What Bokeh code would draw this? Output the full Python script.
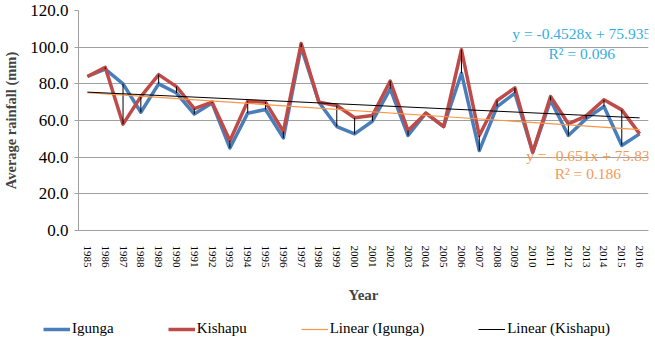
from bokeh.plotting import figure
from bokeh.models import (ColumnDataSource, FixedTicker, PrintfTickFormatter,
                          Legend, LegendItem, Label, Range1d)
from bokeh.embed import file_html
from bokeh.resources import INLINE

# Annual average rainfall (mm), 1985-2016
years = list(range(1985, 2017))
igunga = [84.0, 88.0, 80.0, 64.5, 80.0, 75.0, 63.5, 69.5, 45.0, 64.0, 66.0, 50.5,
          100.0, 70.0, 56.7, 52.7, 59.6, 77.3, 51.8, 64.0, 56.7, 85.8, 43.6, 67.6,
          74.9, 42.7, 71.0, 51.8, 61.0, 67.6, 46.4, 52.7]
kishapu = [84.0, 89.0, 58.0, 73.0, 85.0, 78.5, 66.5, 70.0, 49.0, 70.5, 70.0, 54.0,
           102.0, 70.0, 68.2, 61.5, 62.7, 81.5, 54.5, 64.0, 56.7, 98.6, 51.8, 70.9,
           77.8, 42.7, 73.1, 58.2, 62.5, 71.3, 65.8, 52.7]

# Fitted linear trends (x = 1 for 1985 ... 32 for 2016)
igunga_slope, igunga_intercept, igunga_r2 = -0.651, 75.83, 0.186
kishapu_slope, kishapu_intercept, kishapu_r2 = -0.4528, 75.935, 0.096

y_ticks = [0, 20, 40, 60, 80, 100, 120]

idx = list(range(1, len(years) + 1))
src = ColumnDataSource(dict(x=idx, igunga=igunga, kishapu=kishapu))

SERIF = "Liberation Serif"
GRID = "#a0a0a0"
BLUE, RED, ORANGE = "#4A7EBB", "#BE4B48", "#F79646"

p = figure(width=655, height=310, output_backend="svg", toolbar_location=None,
           x_range=Range1d(0.5, len(years) + 0.5), y_range=Range1d(0, 120),
           min_border_left=74, min_border_right=7, min_border_top=10,
           min_border_bottom=80)
p.outline_line_color = None
p.background_fill_color = "white"
p.border_fill_color = "white"

# series
p.line("x", "igunga", source=src, line_color=BLUE, line_width=3.5,
       line_join="round")
p.line("x", "kishapu", source=src, line_color=RED, line_width=3.5,
       line_join="round")

# high-low connectors between the two stations
p.segment(x0="x", y0="igunga", x1="x", y1="kishapu", source=src,
          line_color="black", line_width=1)

# trend lines from the fitted equations
tx = [1, len(years)]
p.line(tx, [igunga_intercept + igunga_slope * v for v in tx],
       line_color=ORANGE, line_width=1.2)
p.line(tx, [kishapu_intercept + kishapu_slope * v for v in tx],
       line_color="black", line_width=1)

# axes
p.xaxis.ticker = FixedTicker(ticks=idx)
p.xaxis.major_label_overrides = {i: str(y) for i, y in zip(idx, years)}
p.xaxis.major_label_orientation = "vertical"
p.xaxis.major_tick_line_color = None
p.xaxis.major_tick_in = 0
p.xaxis.major_tick_out = 0
p.xaxis.minor_tick_line_color = None
p.xaxis.axis_line_color = GRID
p.xaxis.major_label_standoff = 15
p.xaxis.major_label_text_font = SERIF
p.xaxis.major_label_text_font_size = "11px"
p.xaxis.major_label_text_color = "black"
p.xaxis.axis_label = "Year"
p.xaxis.axis_label_text_font = SERIF
p.xaxis.axis_label_text_font_style = "bold"
p.xaxis.axis_label_text_font_size = "15px"
p.xaxis.axis_label_standoff = 16

p.yaxis.ticker = FixedTicker(ticks=y_ticks)
p.yaxis.formatter = PrintfTickFormatter(format="%.1f")
p.yaxis.major_tick_line_color = GRID
p.yaxis.major_tick_in = 0
p.yaxis.major_tick_out = 4
p.yaxis.minor_tick_line_color = None
p.yaxis.axis_line_color = GRID
p.yaxis.major_label_standoff = 6
p.yaxis.major_label_text_font = SERIF
p.yaxis.major_label_text_font_size = "17px"
p.yaxis.major_label_text_color = "black"
p.yaxis.axis_label = "Average rainfall (mm)"
p.yaxis.axis_label_text_font = SERIF
p.yaxis.axis_label_text_font_style = "bold"
p.yaxis.axis_label_text_font_size = "14.5px"
p.yaxis.axis_label_standoff = 8

p.xgrid.grid_line_color = None
p.ygrid.grid_line_color = GRID
p.ygrid.grid_line_width = 1.2

# trend equations
eq_style = dict(text_font=SERIF, text_font_size="15.5px", text_align="center",
                text_baseline="middle")
p.add_layout(Label(x=28.75, y=107.5,
                   text=f"y = {kishapu_slope}x + {kishapu_intercept}",
                   text_color="#35AEE2", **eq_style))
p.add_layout(Label(x=28.75, y=96.6, text=f"R² = {kishapu_r2}",
                   text_color="#35AEE2", **eq_style))
p.add_layout(Label(x=29.1, y=40.9,
                   text=f"y = {igunga_slope}x + {igunga_intercept}",
                   text_color="#F29A55", **eq_style))
p.add_layout(Label(x=29.1, y=31.1, text=f"R² = {igunga_r2}",
                   text_color="#F29A55", **eq_style))

# legend strip under the chart (its swatch renderers sit outside the visible range)
lg = figure(width=655, height=34, output_backend="svg", toolbar_location=None,
            x_range=Range1d(0, 1), y_range=Range1d(0, 1),
            min_border=0, min_border_left=0, min_border_right=0,
            min_border_top=0, min_border_bottom=0)
lg.outline_line_color = None
lg.axis.visible = False
lg.grid.visible = False
off = dict(x=[-200, -100], y=[-200, -200])
k_ig = lg.line(line_color=BLUE, line_width=3.5, **off)
k_ki = lg.line(line_color=RED, line_width=3.5, **off)
k_tig = lg.line(line_color=ORANGE, line_width=1.2, **off)
k_tki = lg.line(line_color="black", line_width=1, **off)

legend = Legend(items=[
    LegendItem(label="Igunga", renderers=[k_ig]),
    LegendItem(label="Kishapu", renderers=[k_ki]),
    LegendItem(label="Linear (Igunga)", renderers=[k_tig]),
    LegendItem(label="Linear (Kishapu)", renderers=[k_tki]),
], orientation="horizontal", location=(43, 7))
legend.glyph_width = 27
legend.glyph_height = 16
legend.label_height = 16
legend.label_standoff = 2
legend.spacing = 54
legend.padding = 0
legend.margin = 0
legend.border_line_color = None
legend.background_fill_alpha = 0
legend.label_text_font = SERIF
legend.label_text_font_size = "15px"
legend.label_text_color = "black"
lg.add_layout(legend, "center")

open("out.html", "w").write(file_html([p, lg], INLINE))
